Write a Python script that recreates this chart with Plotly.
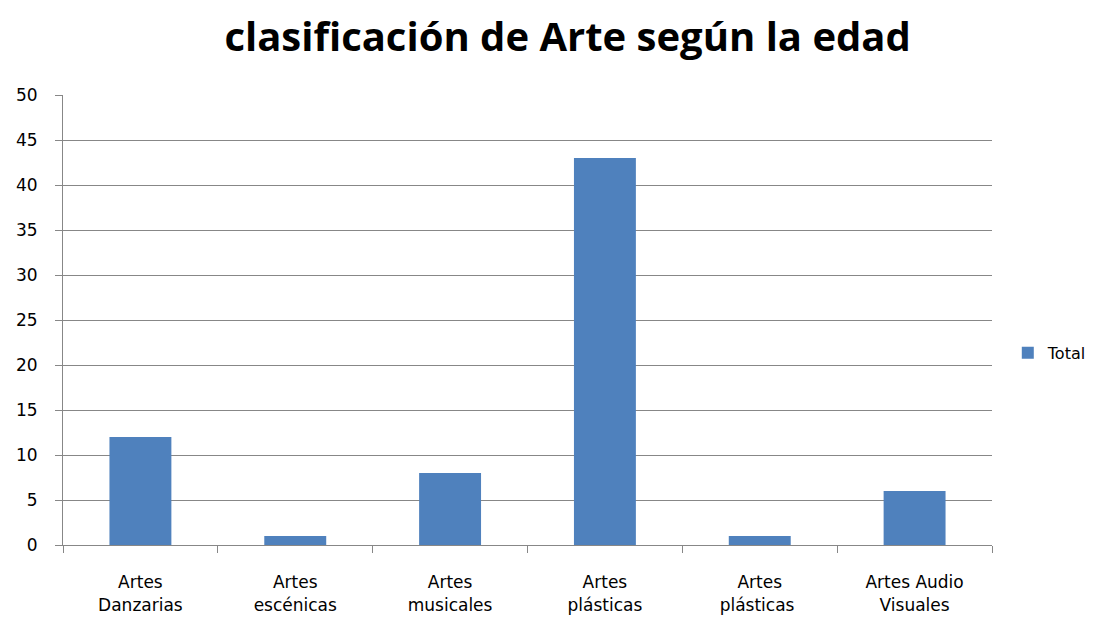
import plotly.graph_objects as go

categories = ["Artes<br>Danzarias", "Artes<br>escénicas", "Artes<br>musicales",
              "Artes<br>plásticas", "Artes<br>plásticas ", "Artes Audio<br>Visuales"]
values = [12, 1, 8, 43, 1, 6]
series_name = "Total"
title_text = "clasificación de Arte según la edad"

fig = go.Figure()
fig.add_trace(go.Bar(x=categories, y=values, name=series_name,
                     marker=dict(color="#4F81BD", line=dict(width=0))))

fig.update_layout(
    width=1106, height=614,
    margin=dict(l=55, r=122, t=87, b=77, autoexpand=False),
    paper_bgcolor="white", plot_bgcolor="white",
    bargap=0.6,
    title=dict(text="<b>" + title_text + "</b>", x=0.506, xanchor="center",
               y=0.953, yanchor="middle",
               font=dict(family="Open Sans", size=40, color="black")),
    showlegend=True,
    legend=dict(x=1.017, xanchor="left", y=0.427, yanchor="middle",
                font=dict(family="DejaVu Sans", size=16, color="black"),
                itemwidth=30),
    font=dict(family="DejaVu Sans", size=14, color="black"),
)
fig.update_yaxes(range=[0, 50], dtick=5, showgrid=True, gridcolor="#878787", gridwidth=1,
                 showline=True, linecolor="#878787", linewidth=1,
                 ticks="outside", ticklen=7, tickcolor="#878787",
                 ticklabelstandoff=14, automargin=False,
                 tickfont=dict(family="DejaVu Sans", size=17, color="black"),
                 zeroline=False)
fig.update_xaxes(showline=True, linecolor="#878787", linewidth=1,
                 ticks="outside", ticklen=7, tickcolor="#878787", tickson="boundaries",
                 ticklabelstandoff=22, automargin=False,
                 tickfont=dict(family="DejaVu Sans", size=17, color="black"))

fig.write_html("out.html")
